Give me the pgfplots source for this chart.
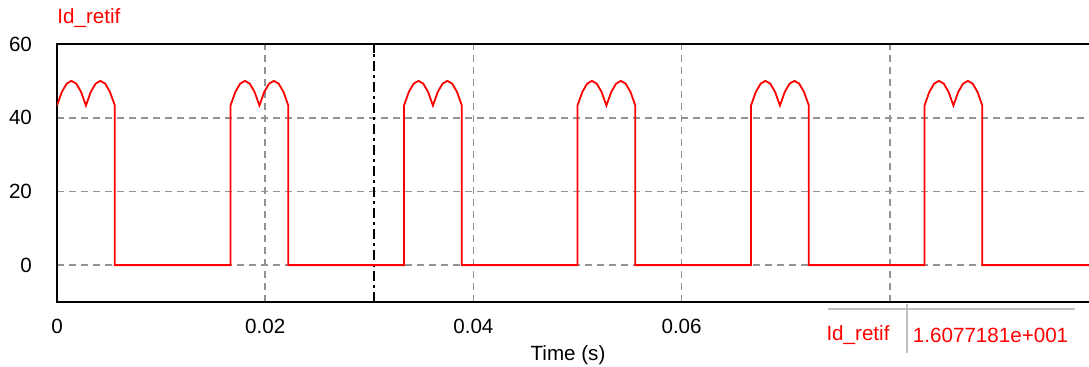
\documentclass[border=0pt]{standalone}
\usepackage{pgfplots}
\pgfplotsset{compat=1.18}
\usepackage{fontspec}
\setmainfont{Liberation Sans}
\definecolor{sigred}{HTML}{FF0000}
\definecolor{gridgray}{HTML}{939393}
\definecolor{boxgray}{HTML}{C0C0C0}
\begin{document}
\begin{tikzpicture}[x=1pt,y=1pt]
\path[use as bounding box, clip] (0,0) rectangle (544.5,183.5);
\begin{axis}[
  at={(28.5pt,32.5pt)}, anchor=south west,
  scale only axis, width=520.5pt, height=129pt,
  xmin=0, xmax=0.1, ymin=-10, ymax=60,
  xtick={0,0.02,0.04,0.06,0.08}, xticklabels={0,0.02,0.04,0.06,{}},
  scaled x ticks=false,
  ytick={0,20,40,60},
  grid=major,
  major grid style={gridgray, dash pattern=on 3.3pt off 2.7pt, line width=0.85pt},
  major tick length=0pt,
  axis line style={line width=1pt, black},
  tick label style={font=\fontsize{10.3}{12}\selectfont, text=black},
  /pgf/number format/assume math mode=true,
  xticklabel style={yshift=-5pt},
  yticklabel style={xshift=-9pt},
]
\addplot[black, line width=0.8pt, dash pattern=on 5pt off 2pt on 1.5pt off 2pt] coordinates {(0.03045,-10) (0.03045,60)};
\addplot[black, line width=0.8pt] coordinates {(0.03045,-10) (0.03045,-7.5)};
\addplot[black, line width=0.8pt] coordinates {(0.03045,57.5) (0.03045,60)};
\addplot[sigred, line width=0.9pt] coordinates {
(0,43.30) (0.000463,46.98) (0.000926,49.24) (0.001389,50.00) (0.001852,49.24) (0.002315,46.98) (0.002778,43.30) (0.003241,46.98) (0.003704,49.24) (0.004167,50.00) (0.004630,49.24) (0.005093,46.98) (0.005556,43.30) (0.005556,0)
(0.016667,0) (0.016667,43.30) (0.017130,46.98) (0.017593,49.24) (0.018056,50.00) (0.018519,49.24) (0.018982,46.98) (0.019445,43.30) (0.019908,46.98) (0.020371,49.24) (0.020834,50.00) (0.021297,49.24) (0.021760,46.98) (0.022223,43.30) (0.022223,0)
(0.033333,0) (0.033333,43.30) (0.033796,46.98) (0.034259,49.24) (0.034722,50.00) (0.035185,49.24) (0.035648,46.98) (0.036111,43.30) (0.036574,46.98) (0.037037,49.24) (0.037500,50.00) (0.037963,49.24) (0.038426,46.98) (0.038889,43.30) (0.038889,0)
(0.050000,0) (0.050000,43.30) (0.050463,46.98) (0.050926,49.24) (0.051389,50.00) (0.051852,49.24) (0.052315,46.98) (0.052778,43.30) (0.053241,46.98) (0.053704,49.24) (0.054167,50.00) (0.054630,49.24) (0.055093,46.98) (0.055556,43.30) (0.055556,0)
(0.066667,0) (0.066667,43.30) (0.067130,46.98) (0.067593,49.24) (0.068056,50.00) (0.068519,49.24) (0.068982,46.98) (0.069445,43.30) (0.069908,46.98) (0.070371,49.24) (0.070834,50.00) (0.071297,49.24) (0.071760,46.98) (0.072223,43.30) (0.072223,0)
(0.083333,0) (0.083333,43.30) (0.083796,46.98) (0.084259,49.24) (0.084722,50.00) (0.085185,49.24) (0.085648,46.98) (0.086111,43.30) (0.086574,46.98) (0.087037,49.24) (0.087500,50.00) (0.087963,49.24) (0.088426,46.98) (0.088889,43.30) (0.088889,0)
(0.1,0)
};
\end{axis}
% title
\node[anchor=west, text=sigred, font=\fontsize{10.3}{12}\selectfont, inner sep=0pt] at (28.5,174.5) {Id\_retif};
% x label
\node[font=\fontsize{10.3}{12}\selectfont, inner sep=0pt] at (284,6) {Time (s)};
% readout box
\fill[white] (412,0) rectangle (544.5,31.5);
\draw[boxgray, line width=0.6pt] (414,29) -- (537.5,29);
\draw[boxgray, line width=0.6pt] (453.5,31.5) -- (453.5,7);
\node[text=sigred, font=\fontsize{10.3}{12}\selectfont, inner sep=0pt] at (429,16) {Id\_retif};
\node[text=sigred, font=\fontsize{10.3}{12}\selectfont, inner sep=0pt] at (495.3,16) {1.6077181e+001};
\end{tikzpicture}
\end{document}
